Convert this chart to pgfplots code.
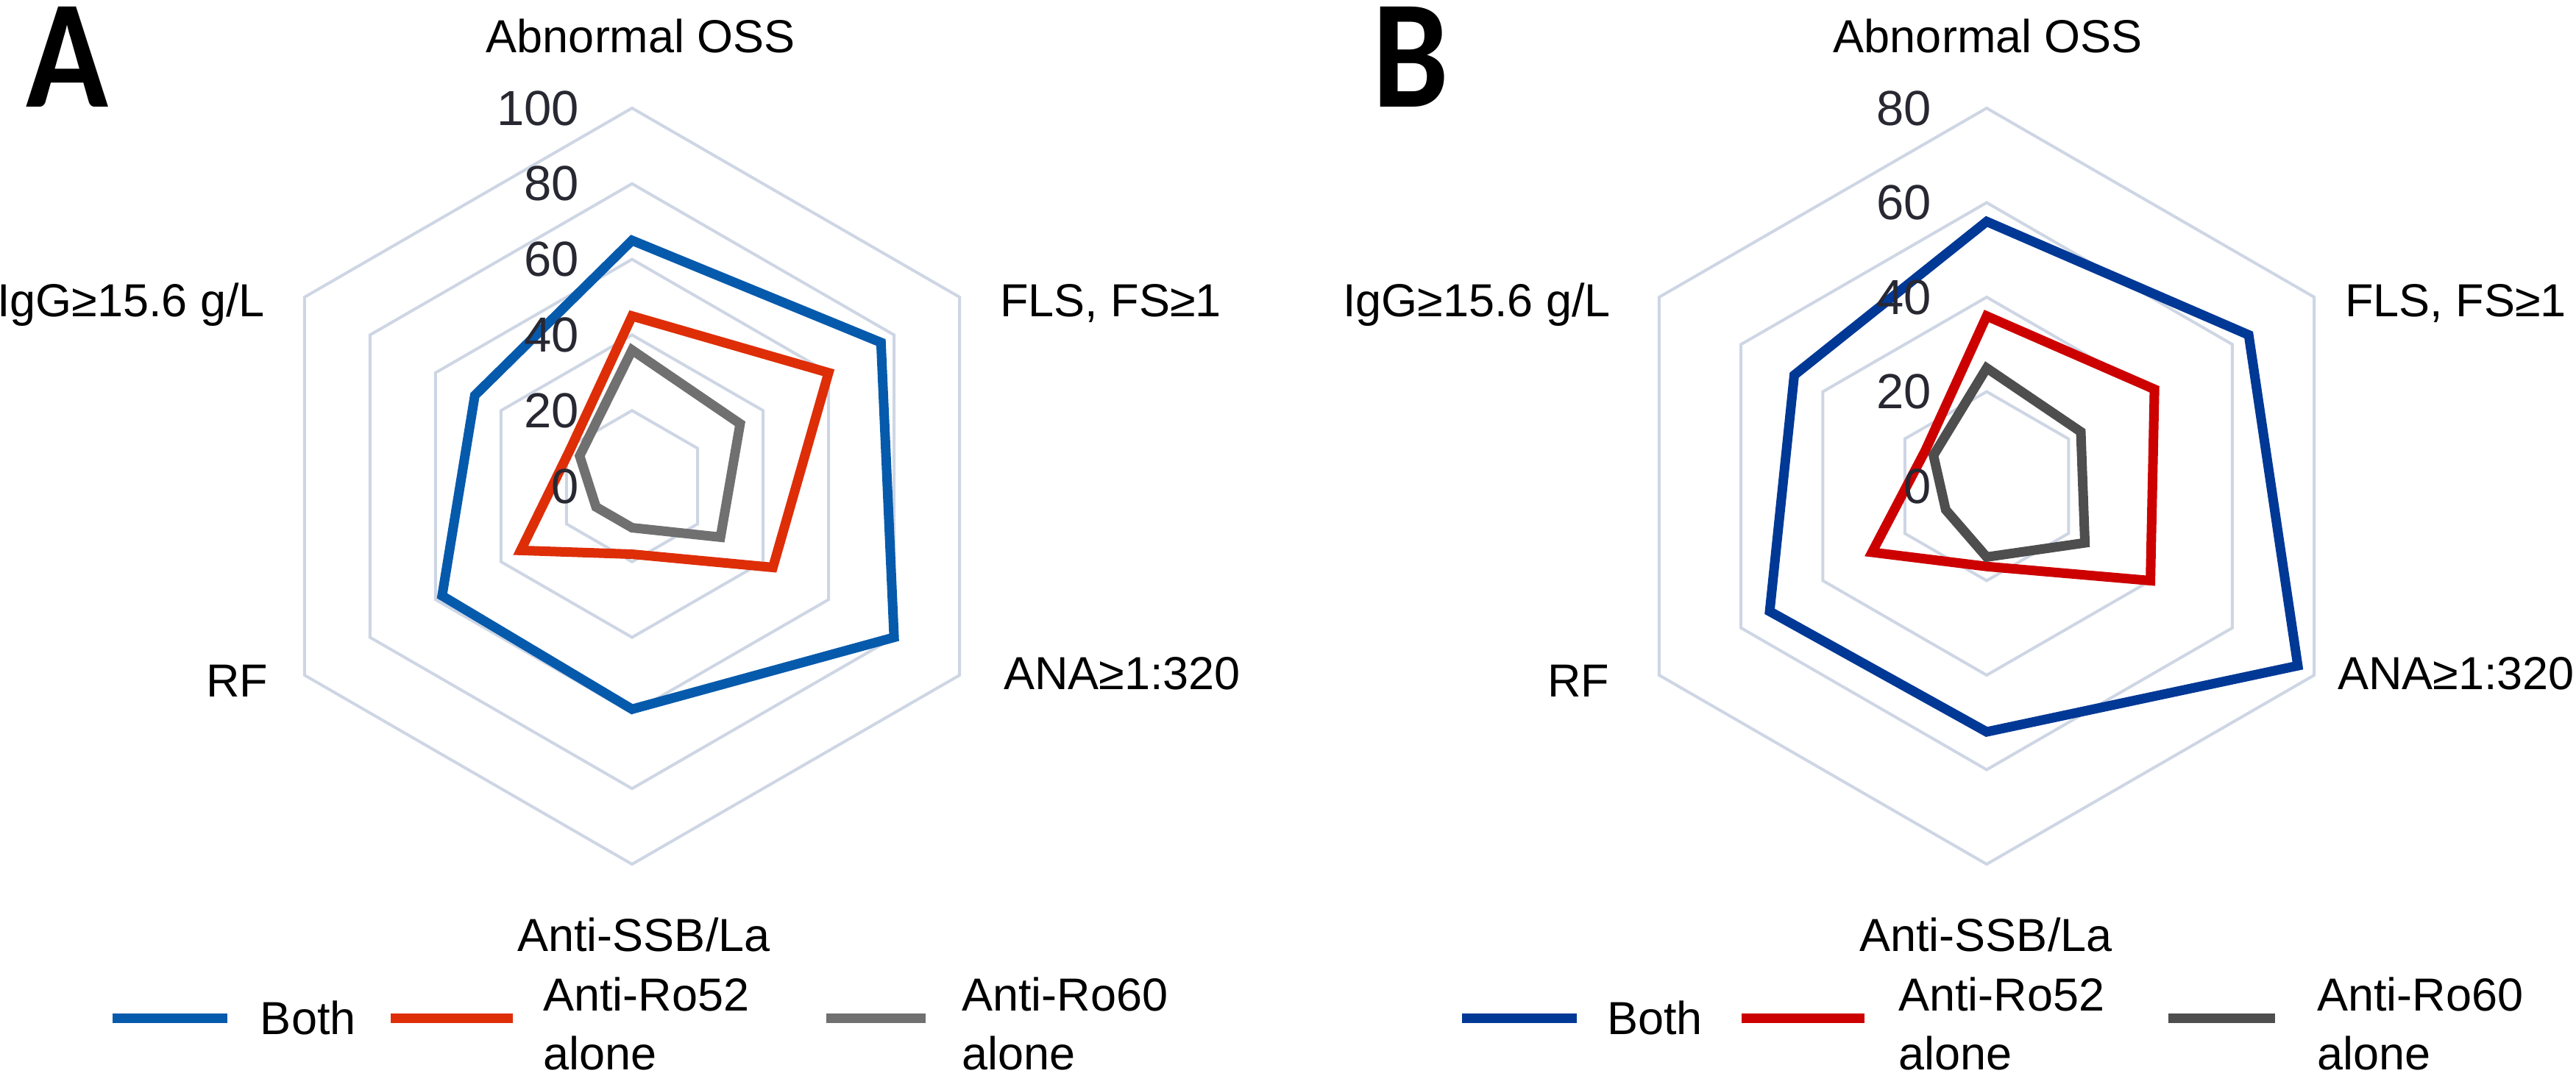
\documentclass[border=0pt]{standalone}
\usepackage{pgfplots}
\pgfplotsset{compat=1.18}
\usepackage{pgfplotstable}
\usepackage{fontspec}
\setmainfont{Liberation Sans}
\newfontfamily\carlito{Carlito}

\definecolor{gridc}{RGB}{206,214,228}
\definecolor{tickc}{RGB}{40,40,50}
\definecolor{blueA}{RGB}{6,90,172}
\definecolor{redA}{RGB}{222,46,8}
\definecolor{grayA}{RGB}{112,112,112}
\definecolor{blueB}{RGB}{0,56,150}
\definecolor{redB}{RGB}{205,0,0}
\definecolor{grayB}{RGB}{78,78,78}

% angle (deg) and percentage; first two rows repeated at the end to close the polygon
\pgfplotstableread{
a both ro52 ro60
90 65 45 36
30 76 60 33
-30 80 43 27
-90 59 18 11
-150 58 34 11
150 48 19 16
90 65 45 36
30 76 60 33
}\dataA

\pgfplotstableread{
a both ro52 ro60
90 56 36 25
30 64 41 23
-30 76 40 24
-90 52 17 15
-150 53 28 10
150 47 15 13
90 56 36 25
30 64 41 23
}\dataB

\pgfplotstableread{
a r
90 1
30 1
-30 1
-90 1
-150 1
150 1
90 1
30 1
}\hexang

\newcommand{\lbl}{\fontsize{12.6}{15}\selectfont}
\newcommand{\tck}{\fontsize{13.4}{16}\selectfont}

\pgfplotsset{
  radar/.style={hide axis, clip=false, anchor=center, scale only axis},
  ser/.style={line width=2.6pt, line join=miter, miter limit=4},
  gridl/.style={gridc, line width=0.8pt, line join=miter},
}

\begin{document}
\begin{tikzpicture}

% ---------- Chart A ----------
\begin{axis}[radar, at={(171.8pt,160.2pt)}, x=1.028pt, y=1.028pt,
  xmin=-110, xmax=110, ymin=-110, ymax=110]
\pgfplotsinvokeforeach{20,40,60,80,100}{
  \addplot[gridl] table[x expr={#1*\thisrow{r}*cos(\thisrow{a})}, y expr={#1*\thisrow{r}*sin(\thisrow{a})}] {\hexang};
}
\addplot[ser, blueA] table[x expr={\thisrow{both}*cos(\thisrow{a})}, y expr={\thisrow{both}*sin(\thisrow{a})}] {\dataA};
\addplot[ser, redA] table[x expr={\thisrow{ro52}*cos(\thisrow{a})}, y expr={\thisrow{ro52}*sin(\thisrow{a})}] {\dataA};
\addplot[ser, grayA] table[x expr={\thisrow{ro60}*cos(\thisrow{a})}, y expr={\thisrow{ro60}*sin(\thisrow{a})}] {\dataA};
\pgfplotsinvokeforeach{0,20,40,60,80,100}{
  \node[anchor=east, inner sep=0pt, xshift=-14.2pt, text=tickc, font=\tck] at (axis cs:0,#1) {#1};
}
\end{axis}

% ---------- Chart B ----------
\begin{axis}[radar, at={(540pt,160.2pt)}, x=1.285pt, y=1.285pt,
  xmin=-88, xmax=88, ymin=-88, ymax=88]
\pgfplotsinvokeforeach{20,40,60,80}{
  \addplot[gridl] table[x expr={#1*\thisrow{r}*cos(\thisrow{a})}, y expr={#1*\thisrow{r}*sin(\thisrow{a})}] {\hexang};
}
\addplot[ser, blueB] table[x expr={\thisrow{both}*cos(\thisrow{a})}, y expr={\thisrow{both}*sin(\thisrow{a})}] {\dataB};
\addplot[ser, redB] table[x expr={\thisrow{ro52}*cos(\thisrow{a})}, y expr={\thisrow{ro52}*sin(\thisrow{a})}] {\dataB};
\addplot[ser, grayB] table[x expr={\thisrow{ro60}*cos(\thisrow{a})}, y expr={\thisrow{ro60}*sin(\thisrow{a})}] {\dataB};
\pgfplotsinvokeforeach{0,20,40,60,80}{
  \node[anchor=east, inner sep=0pt, xshift=-14.8pt, text=tickc, font=\tck] at (axis cs:0,#1) {#1};
}
\end{axis}

% ---------- labels and legends (pixel grid of the reference) ----------
\begin{scope}[yshift=292.4pt, x=0.2pt, y=-0.2pt]
  \tikzset{every node/.style={inner sep=0pt, font=\lbl}}
  % panel letters
  \node[anchor=base west, font={\carlito\bfseries\fontsize{42}{44}\selectfont}] at (34,146) {\scalebox{0.88}[1]{A}};
  \node[anchor=base west, font={\carlito\bfseries\fontsize{42}{44}\selectfont}] at (1864,146) {\scalebox{0.88}[1]{B}};

  % chart A category labels
  \node[anchor=base] at (871,72) {Abnormal OSS};
  \node[anchor=base west] at (1358,431) {FLS, FS≥1};
  \node[anchor=base west] at (1363,938) {ANA≥1:320};
  \node[anchor=base] at (875,1294) {Anti-SSB/La};
  \node[anchor=base east] at (365,948) {RF};
  \node[anchor=base east] at (361,431) {IgG≥15.6 g/L};

  % chart B category labels
  \node[anchor=base] at (2702,72) {Abnormal OSS};
  \node[anchor=base west] at (3186,431) {FLS, FS≥1};
  \node[anchor=base west] at (3176,938) {ANA≥1:320};
  \node[anchor=base] at (2699,1294) {Anti-SSB/La};
  \node[anchor=base east] at (2188,948) {RF};
  \node[anchor=base east] at (2190,431) {IgG≥15.6 g/L};

  % legend A
  \draw[blueA, line width=2.6pt] (153,1385) -- (309,1385);
  \node[anchor=base west] at (353,1407) {Both};
  \draw[redA, line width=2.6pt] (531,1385) -- (697,1385);
  \node[anchor=base west] at (737,1375) {Anti-Ro52};
  \node[anchor=base west] at (737,1455) {alone};
  \draw[grayA, line width=2.6pt] (1123,1385) -- (1258,1385);
  \node[anchor=base west] at (1306,1375) {Anti-Ro60};
  \node[anchor=base west] at (1306,1455) {alone};

  % legend B
  \draw[blueB, line width=2.6pt] (1987,1385) -- (2143,1385);
  \node[anchor=base west] at (2183,1407) {Both};
  \draw[redB, line width=2.6pt] (2367,1385) -- (2534,1385);
  \node[anchor=base west] at (2579,1375) {Anti-Ro52};
  \node[anchor=base west] at (2579,1455) {alone};
  \draw[grayB, line width=2.6pt] (2947,1385) -- (3092,1385);
  \node[anchor=base west] at (3148,1375) {Anti-Ro60};
  \node[anchor=base west] at (3148,1455) {alone};
\end{scope}

\pgfresetboundingbox
\useasboundingbox (0,0) rectangle (700.2pt,292.4pt);
\end{tikzpicture}
\end{document}
